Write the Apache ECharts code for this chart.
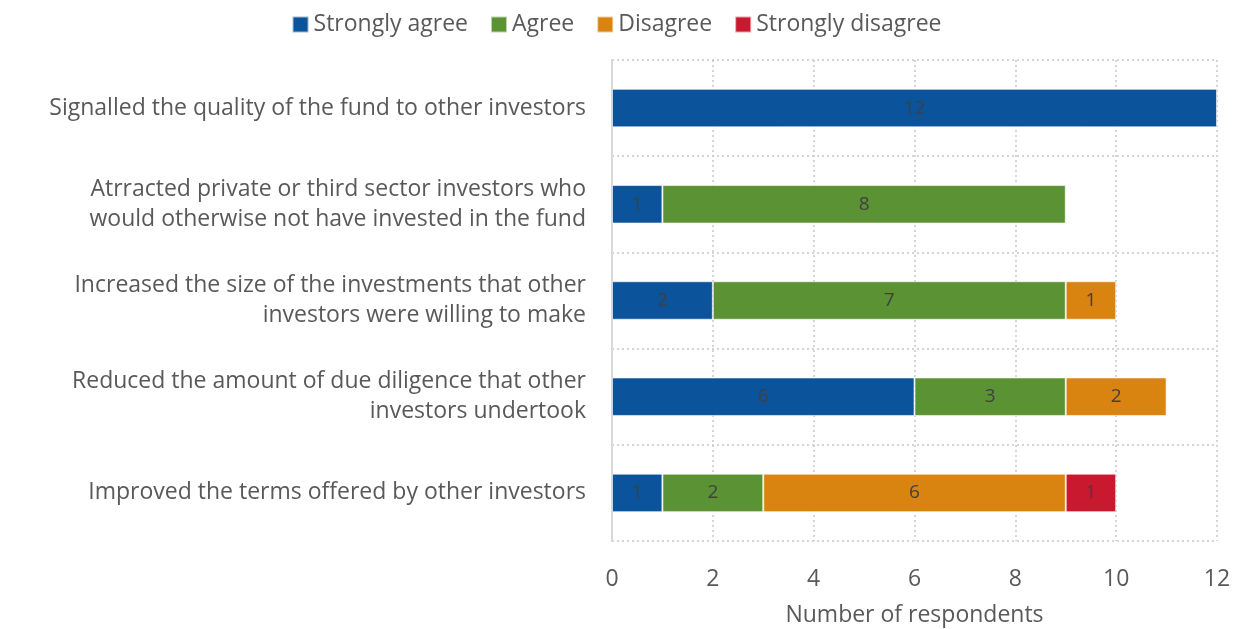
<!DOCTYPE html>
<html>
<head>
<meta charset="utf-8">
<script src="https://cdn.jsdelivr.net/npm/echarts@6/dist/echarts.min.js"></script>
<style>
  html, body { margin: 0; padding: 0; background: #fff; }
  #chart { width: 1233px; height: 629px; }
</style>
</head>
<body>
<div id="chart"></div>
<script>
var categories = [
    'Signalled the quality of the fund to other investors',
    'Atrracted private or third sector investors who\nwould otherwise not have invested in the fund',
    'Increased the size of the investments that other\ninvestors were willing to make',
    'Reduced the amount of due diligence that other\ninvestors undertook',
    'Improved the terms offered by other investors'
];
var stronglyAgree = [12, 1, 2, 6, 1];
var agree = [null, 8, 7, 3, 2];
var disagree = [null, null, 1, 2, 6];
var stronglyDisagree = [null, null, null, null, 1];
var xTicks = [0, 2, 4, 6, 8, 10, 12];

var fontName = 'Open Sans';

function makeSeries(name, data, color) {
    return {
        name: name,
        type: 'bar',
        stack: 'total',
        barWidth: '40%',
        data: data,
        itemStyle: { color: color, borderColor: 'rgba(255,255,255,0.6)', borderWidth: 1 },
        label: {
            show: true,
            position: 'inside',
            color: '#404040',
            fontSize: 19,
            fontFamily: fontName
        }
    };
}

var chart = echarts.init(document.getElementById('chart'));
var option = {
    animation: false,
    textStyle: { fontFamily: fontName },
    legend: {
        top: 8,
        left: 'center',
        icon: 'rect',
        itemWidth: 16,
        itemHeight: 16,
        itemGap: 22,
        textStyle: { fontSize: 23, color: '#595959', fontFamily: fontName },
        data: ['Strongly agree', 'Agree', 'Disagree', 'Strongly disagree']
    },
    grid: { left: 612, right: 16, top: 60, bottom: 88, containLabel: false, outerBoundsMode: 'none' },
    xAxis: {
        type: 'value',
        min: xTicks[0],
        max: xTicks[xTicks.length - 1],
        interval: 2,
        name: 'Number of respondents',
        nameLocation: 'middle',
        nameGap: 63,
        nameTextStyle: { fontSize: 23, color: '#595959', fontFamily: fontName },
        axisLine: { show: false },
        axisTick: { show: false },
        axisLabel: { fontSize: 23, color: '#595959', margin: 27, fontFamily: fontName },
        splitLine: { lineStyle: { color: '#c8c8c8', type: [2, 3], width: 1.5 } }
    },
    yAxis: {
        type: 'category',
        inverse: true,
        data: categories,
        axisLine: { show: true, lineStyle: { color: '#d9d9d9', width: 2 } },
        axisTick: { show: false },
        axisLabel: {
            fontSize: 23,
            color: '#595959',
            margin: 26,
            align: 'right',
            lineHeight: 30,
            fontFamily: fontName
        },
        splitLine: { show: true, lineStyle: { color: '#c8c8c8', type: [2, 3], width: 1.5 } }
    },
    series: [
        makeSeries('Strongly agree', stronglyAgree, '#0b539b'),
        makeSeries('Agree', agree, '#5b9234'),
        makeSeries('Disagree', disagree, '#d98310'),
        makeSeries('Strongly disagree', stronglyDisagree, '#c8192e')
    ]
};
chart.setOption(option);
</script>
</body>
</html>
